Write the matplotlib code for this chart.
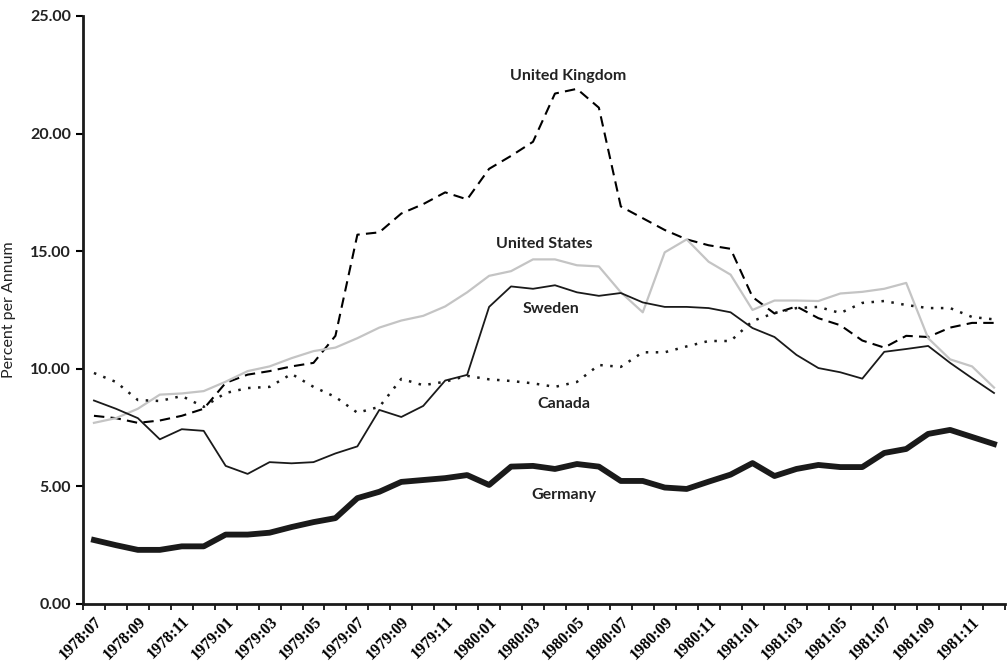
import matplotlib
matplotlib.use("Agg")
import matplotlib.pyplot as plt
import matplotlib.transforms as mtransforms
import numpy as np

# monthly series 1978:07 - 1981:12, percent per annum
months = [f"{y}:{m:02d}" for y in (1978, 1979, 1980, 1981) for m in range(1, 13)][6:]

uk = [8.0, 7.9, 7.7, 7.8, 8.0, 8.3, 9.4, 9.75, 9.9, 10.1, 10.25, 11.4,
      15.7, 15.8, 16.6, 17.0, 17.5, 17.2, 18.5, 19.05, 19.65, 21.7, 21.9, 21.1,
      16.9, 16.4, 15.9, 15.5, 15.25, 15.1, 13.05, 12.35, 12.65, 12.15, 11.85, 11.2,
      10.9, 11.4, 11.35, 11.75, 11.95, 11.95]
us = [7.7, 7.9, 8.3, 8.9, 8.95, 9.05, 9.45, 9.9, 10.1, 10.45, 10.75, 10.9,
      11.3, 11.75, 12.05, 12.25, 12.65, 13.25, 13.95, 14.15, 14.65, 14.65, 14.4, 14.35,
      13.25, 12.4, 14.95, 15.5, 14.55, 14.0, 12.5, 12.9, 12.9, 12.88, 13.2, 13.27,
      13.4, 13.65, 11.3, 10.4, 10.1, 9.2]
sweden = [8.65, 8.3, 7.9, 7.0, 7.43, 7.36, 5.87, 5.53, 6.03, 5.98, 6.03, 6.4,
          6.7, 8.25, 7.95, 8.42, 9.5, 9.74, 12.63, 13.5, 13.4, 13.55, 13.25, 13.1,
          13.22, 12.82, 12.63, 12.63, 12.58, 12.4, 11.73, 11.35, 10.59, 10.03, 9.85, 9.58,
          10.72, 10.84, 10.97, 10.25, 9.6, 8.97]
canada = [9.82, 9.44, 8.67, 8.63, 8.84, 8.38, 8.97, 9.18, 9.23, 9.78, 9.23, 8.8,
          8.13, 8.38, 9.57, 9.3, 9.45, 9.7, 9.55, 9.48, 9.38, 9.23, 9.44, 10.16,
          10.08, 10.7, 10.7, 10.95, 11.18, 11.18, 12.03, 12.37, 12.58, 12.63, 12.37, 12.8,
          12.88, 12.71, 12.58, 12.58, 12.2, 12.1]
germany = [2.72, 2.5, 2.3, 2.3, 2.45, 2.45, 2.95, 2.95, 3.03, 3.27, 3.48, 3.65,
           4.5, 4.77, 5.19, 5.27, 5.35, 5.48, 5.06, 5.84, 5.87, 5.74, 5.95, 5.84,
           5.23, 5.23, 4.95, 4.89, 5.2, 5.5, 5.99, 5.44, 5.74, 5.91, 5.82, 5.82,
           6.42, 6.59, 7.23, 7.4, 7.1, 6.8]

x = np.arange(len(months))

fig = plt.figure(figsize=(10.07, 6.64), dpi=100)
ax = fig.add_axes([0.0824, 0.0904, 0.9156, 0.8856])

ax.plot(x, uk, color="black", lw=1.5, ls=(0, (5, 3)))
ax.plot(x, us, color="#c4c4c4", lw=1.6)
ax.plot(x, sweden, color="#1a1a1a", lw=1.3)
ax.plot(x, canada, color="#1a1a1a", lw=1.8, ls=(0, (1, 3)))
ax.plot(x, germany, color="#1a1a1a", lw=4.2)

lab = dict(fontsize=11.5, fontweight="bold", family="Lato", color="#222222", ha="center", va="center")
ax.text(21.6, 22.45, "United Kingdom", **lab)
ax.text(20.5, 15.3, "United States", **lab)
ax.text(20.8, 12.55, "Sweden", **lab)
ax.text(21.4, 8.5, "Canada", **lab)
ax.text(21.4, 4.65, "Germany", **lab)

ax.set_xlim(-0.5, len(months) - 0.5)
ax.set_ylim(0, 25)
ax.set_yticks(np.arange(0, 26, 5))
ax.set_yticklabels([f"{v:.2f}" for v in range(0, 26, 5)], fontsize=11.5,
                   fontweight="bold", family="Lato", color="#222222")
ax.set_xticks(x[::2])
ax.set_xticklabels(months[::2], rotation=45, ha="right", rotation_mode="anchor",
                   fontsize=11.5, fontweight="bold", family="Liberation Serif")
shift = mtransforms.ScaledTranslation(8 / 100, 0, fig.dpi_scale_trans)
for t in ax.get_xticklabels():
    t.set_transform(t.get_transform() + shift)
ax.set_xticks(np.arange(-0.5, len(months), 1), minor=True)
ax.tick_params(axis="x", which="major", length=0, pad=7)
ax.tick_params(axis="x", which="minor", length=4, width=1.2)
ax.tick_params(axis="y", length=5, width=1.5)
ax.set_ylabel("Percent per Annum", fontsize=11.5, family="Lato", color="#222222", labelpad=10)

for s in ("top", "right"):
    ax.spines[s].set_visible(False)
for s in ("left", "bottom"):
    ax.spines[s].set_linewidth(2)
    ax.spines[s].set_color("#1a1a1a")

fig.savefig("out.png", dpi=100)
